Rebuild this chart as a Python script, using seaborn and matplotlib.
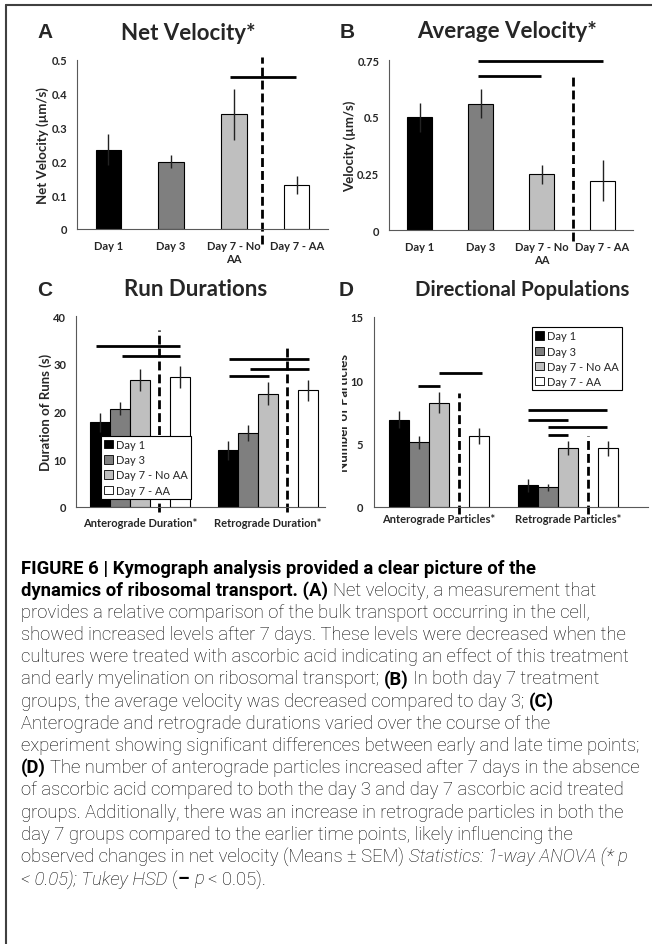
import numpy as np
import pandas as pd
import seaborn as sns
import matplotlib
matplotlib.use("Agg")
import matplotlib.pyplot as plt
from matplotlib.patches import Patch, Rectangle
from matplotlib.lines import Line2D
from matplotlib.ticker import FuncFormatter
from matplotlib.transforms import Bbox

# --- data ---
days = ["Day 1", "Day 3", "Day 7 - No AA", "Day 7 - AA"]
days_wrapped = ["Day 1", "Day 3", "Day 7 - No\nAA", "Day 7 - AA"]
day_colors = ["#000000", "#7f7f7f", "#bfbfbf", "#ffffff"]

net_velocity = [0.235, 0.199, 0.339, 0.130]
net_velocity_sem = [0.045, 0.020, 0.075, 0.026]

avg_velocity = [0.497, 0.558, 0.245, 0.217]
avg_velocity_sem = [0.065, 0.065, 0.042, 0.090]

duration_groups = ["Anterograde Duration*", "Retrograde Duration*"]
antero_duration = [17.7, 20.6, 26.5, 27.3]
antero_duration_sem = [2.0, 1.4, 2.3, 2.3]
retro_duration = [11.9, 15.5, 23.7, 24.4]
retro_duration_sem = [2.0, 1.6, 2.4, 2.3]

particle_groups = ["Anterograde Particles*", "Retrograde Particles*"]
antero_particles = [6.9, 5.1, 8.25, 5.6]
antero_particles_sem = [0.65, 0.5, 0.8, 0.6]
retro_particles = [1.7, 1.55, 4.65, 4.65]
retro_particles_sem = [0.55, 0.25, 0.55, 0.6]

# Tukey HSD bars (x from, x to, y) and dashed dividers (x, y bottom, y top)
sig_a = [(1.94, 2.99, 0.45)]
div_a = [(2.45, -0.045, 0.51)]
sig_b = [(0.96, 3.01, 0.745), (0.96, 1.99, 0.679)]
div_b = [(2.52, -0.05, 0.675)]
sig_c = [(-0.344, 0.3125, 33.8), (-0.14, 0.3125, 31.6),
         (0.695, 1.32, 31.0), (0.86, 1.32, 29.0), (0.695, 1.008, 27.5)]
div_c = [(0.148, -1.0, 37.1), (1.148, -1.0, 33.3)]
sig_d = [(-0.157, 0.008, 9.52), (0.0, 0.336, 10.6),
         (0.688, 1.30, 7.63), (0.688, 1.002, 6.9), (0.847, 1.30, 6.34), (0.847, 1.002, 5.71)]
div_d = [(0.155, -0.55, 9.0), (1.153, -0.55, 5.57)]

W, H = 652, 945
sns.set_style("white")
plt.rcParams["font.family"] = ["Lato", "DejaVu Sans"]
SPINE = "#595959"

fig = plt.figure(figsize=(W / 100, H / 100), dpi=100)


def rect(left, right, top, bottom):
    return [left / W, 1 - bottom / H, (right - left) / W, (bottom - top) / H]


def finish_axes(ax, xlim, yticks, xbounds, ylabel, label_x, xpad, ypad=3):
    ax.set_xlim(*xlim)
    ax.set_ylim(yticks[0], yticks[-1])
    ax.set_yticks(yticks)
    ax.yaxis.set_major_formatter(FuncFormatter(lambda v, p: "{:g}".format(v)))
    ax.set_xticks(xbounds, minor=True)
    ax.tick_params(axis="x", which="major", length=0, pad=xpad, labelsize=8)
    ax.tick_params(axis="x", which="minor", length=4, width=0.8, color=SPINE, direction="out")
    ax.tick_params(axis="y", length=4, width=0.8, color=SPINE, direction="out", pad=ypad,
                   labelsize=8)
    for lbl in ax.get_xticklabels() + ax.get_yticklabels():
        lbl.set_fontweight("bold")
    sns.despine(ax=ax)
    for s in ["left", "bottom"]:
        ax.spines[s].set_color(SPINE)
        ax.spines[s].set_linewidth(0.8)
    ax.set_xlabel("")
    ax.set_ylabel(ylabel, fontsize=9.5, fontweight="bold")
    ax.yaxis.set_label_coords(label_x, 0.5)


def annotate(ax, sig, div):
    for x0, x1, y in sig:
        ax.plot([x0, x1], [y, y], color="black", lw=2.0, solid_capstyle="butt", clip_on=False)
    for x, y0, y1 in div:
        ax.plot([x, x], [y0, y1], color="black", lw=2.0, ls=(0, (3.2, 1.45)), clip_on=False)


def simple_panel(rect_px, values, sem, yticks, ylabel, label_x, sig, div):
    ax = fig.add_axes(rect(*rect_px))
    sns.barplot(x=days_wrapped, y=values, hue=days_wrapped, palette=day_colors, width=0.41,
                edgecolor="black", linewidth=0.8, errorbar=None, legend=False, ax=ax)
    ax.errorbar(np.arange(len(values)), values, yerr=sem, fmt="none", ecolor="#222222",
                elinewidth=1.0, capsize=0, zorder=3)
    finish_axes(ax, (-0.5, 3.5), yticks, [-0.5, 0.5, 1.5, 2.5, 3.5], ylabel, label_x, 8)
    annotate(ax, sig, div)
    return ax


def grouped_panel(rect_px, groups, antero, antero_sem, retro, retro_sem, yticks, xright,
                  ylabel, label_x, sig, div, legend_anchor, legend_loc, xpad, ypad):
    ax = fig.add_axes(rect(*rect_px))
    df = pd.DataFrame({
        "group": np.repeat(groups, len(days)),
        "day": days * 2,
        "value": antero + retro,
    })
    hue_order = days[:3] + [" "] + days[3:]
    palette = dict(zip(hue_order, day_colors[:3] + ["#ffffff"] + day_colors[3:]))
    width = 0.775
    sns.barplot(df, x="group", y="value", hue="day", hue_order=hue_order, palette=palette,
                width=width, gap=0, edgecolor="black", linewidth=0.8, errorbar=None,
                legend=False, ax=ax)
    # error bars: find each bar's group and hue slot from where seaborn placed it
    sems = [antero_sem, retro_sem]
    slot_to_day = {0: 0, 1: 1, 2: 2, 4: 3}
    slot_w = width / len(hue_order)
    for patch in [p for p in ax.patches if isinstance(p, Rectangle)]:
        h = patch.get_height()
        if not np.isfinite(h) or h == 0:
            continue
        cx = patch.get_x() + patch.get_width() / 2
        g = int(round(cx))
        slot = int(round((cx - g + width / 2) / slot_w - 0.5))
        if slot not in slot_to_day:
            continue
        ax.errorbar(cx, h, yerr=sems[g][slot_to_day[slot]], fmt="none", ecolor="#222222",
                    elinewidth=1.0, capsize=0, zorder=3)
    finish_axes(ax, (-0.5, xright), yticks, [-0.5, 0.5, xright], ylabel, label_x, xpad, ypad)
    annotate(ax, sig, div)
    handles = [Patch(facecolor=c, edgecolor="black", linewidth=0.6, label=d)
               for d, c in zip(days, day_colors)]
    leg = ax.legend(handles=handles, loc=legend_loc, bbox_to_anchor=legend_anchor,
                    fontsize=8, frameon=True, fancybox=False, framealpha=1,
                    handlelength=0.8, handleheight=0.8, handletextpad=0.25,
                    labelspacing=0.38, borderpad=0.3, borderaxespad=0)
    leg.get_frame().set_edgecolor("black")
    leg.get_frame().set_linewidth(0.8)
    leg.set_zorder(5)
    return ax


ax_a = simple_panel((77, 328, 61, 230), net_velocity, net_velocity_sem,
                    [0, 0.1, 0.2, 0.3, 0.4, 0.5], "Net Velocity (µm/s)", -0.11, sig_a, div_a)
ax_b = simple_panel((389, 633, 61, 231), avg_velocity, avg_velocity_sem,
                    [0, 0.25, 0.5, 0.75], "Velocity (µm/s)", -0.135, sig_b, div_b)
ax_c = grouped_panel((76, 325, 317, 508), duration_groups, antero_duration, antero_duration_sem,
                     retro_duration, retro_duration_sem, [0, 10, 20, 30, 40], 1.445,
                     "Duration of Runs (s)", -0.096, sig_c, div_c, (0.1, 0.042), "lower left",
                     7, 3)
ax_d = grouped_panel((374, 648, 318, 508), particle_groups, antero_particles, antero_particles_sem,
                     retro_particles, retro_particles_sem, [0, 5, 10, 15], 1.62,
                     "Number of Particles", -0.087, sig_d, div_d, (0.577, 0.947), "upper left",
                     4, 4)
# the reference crops the left edge of this label
ax_d.yaxis.label.set_clip_box(Bbox([[342, 0], [W, H]]))
ax_d.yaxis.label.set_clip_on(True)

# titles and panel letters
titles = [("A", 45, 33, "Net Velocity*", 188, 16), ("B", 347, 32, "Average Velocity*", 507, 16),
          ("C", 45, 290, "Run Durations", 196, 16),
          ("D", 346, 290, "Directional Populations", 522, 14.8)]
for letter, lx, ty, title, tx, size in titles:
    fig.text(lx / W, 1 - ty / H, letter, fontsize=15, fontweight="bold",
             family=["Liberation Sans", "DejaVu Sans"], ha="center", va="center")
    fig.text(tx / W, 1 - ty / H, title, fontsize=size, fontweight="bold", ha="center",
             va="center")

# outer frame (top and left only)
fig.add_artist(Line2D([6 / W, 1], [1 - 6 / H, 1 - 6 / H], color="#404040", lw=1.5))
fig.add_artist(Line2D([6 / W, 6 / W], [0, 1 - 6 / H], color="#404040", lw=1.5))

# caption
caption = [
    [("FIGURE 6 | Kymograph analysis provided a clear picture of the", "b")],
    [("dynamics of ribosomal transport. (A)", "b"), (" Net velocity, a measurement that", "r")],
    [("provides a relative comparison of the bulk transport occurring in the cell,", "r")],
    [("showed increased levels after 7 days. These levels were decreased when the", "r")],
    [("cultures were treated with ascorbic acid indicating an effect of this treatment", "r")],
    [("and early myelination on ribosomal transport; ", "r"), ("(B)", "b"),
     (" In both day 7 treatment", "r")],
    [("groups, the average velocity was decreased compared to day 3; ", "r"), ("(C)", "b")],
    [("Anterograde and retrograde durations varied over the course of the", "r")],
    [("experiment showing significant differences between early and late time points;", "r")],
    [("(D)", "b"), (" The number of anterograde particles increased after 7 days in the absence", "r")],
    [("of ascorbic acid compared to both the day 3 and day 7 ascorbic acid treated", "r")],
    [("groups. Additionally, there was an increase in retrograde particles in both the", "r")],
    [("day 7 groups compared to the earlier time points, likely influencing the", "r")],
    [("observed changes in net velocity (Means ± SEM) ", "r"), ("Statistics: 1-way ANOVA (* p", "i")],
    [("< 0.05); Tukey HSD", "i"), (" (", "r"), ("–", "b"), (" ", "r"), ("p", "i"), (" < 0.05).", "r")],
]
cap_size = 13.3
cap_family = ["Roboto", "Liberation Sans", "DejaVu Sans"]
space_px = 0.25 * cap_size * 100 / 72
renderer = fig.canvas.get_renderer()
for i, line in enumerate(caption):
    x = 21.0
    y = 573.5 + 22.2 * i
    for text, st in line:
        if text.startswith(" "):
            x += space_px
        core = text.strip()
        if core:
            t = fig.text(x / W, 1 - y / H, core, fontsize=cap_size, family=cap_family,
                         fontweight="bold" if st == "b" else "light",
                         fontstyle="italic" if st == "i" else "normal",
                         ha="left", va="baseline", color="black")
            x += t.get_window_extent(renderer).width
        if text.endswith(" ") and text.strip():
            x += space_px

fig.savefig("out.png", dpi=100)
